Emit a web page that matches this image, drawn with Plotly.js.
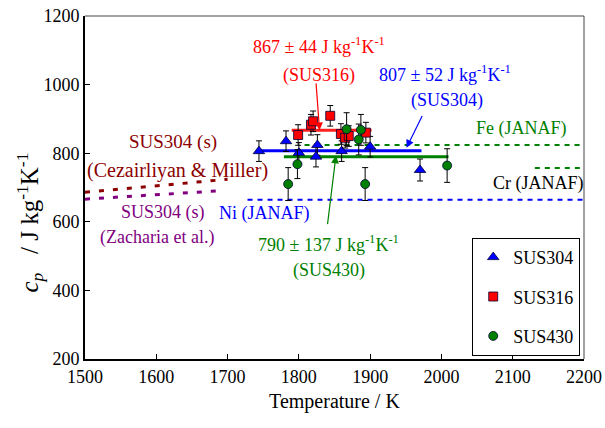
<!DOCTYPE html>
<html>
<head>
<meta charset="utf-8">
<script src="https://cdn.plot.ly/plotly-3.0.1.min.js"></script>
<style>html,body{margin:0;padding:0;background:#fff;}#chart{width:605px;height:428px;}</style>
</head>
<body>
<div id="chart"></div>
<script>
// Measured data (Temperature / K, cp / J kg-1 K-1)
const sus304T   = [1744, 1782, 1800, 1824, 1826, 1860, 1900, 1970];
const sus304Cp  = [806, 835, 801, 790, 824, 806, 819, 751];
const sus304Err = [30, 30, 30, 30, 30, 30, 30, 32];

const sus316T   = [1799, 1817, 1820, 1844, 1859, 1865, 1870, 1894];
const sus316Cp  = [853, 883, 893, 909, 856, 845, 850, 860];
const sus316Err = [30, 30, 30, 30, 30, 30, 30, 30];

const sus430T   = [1785, 1798, 1867, 1884, 1887, 1893, 2008];
const sus430Cp  = [710, 768, 870, 840, 868, 710, 764];
const sus430Err = [48, 42, 48, 45, 45, 48, 49];

// Mean values (horizontal fit lines)
const fit304T = [1741, 1972]; const fit304Cp = [807, 807];
const fit316T = [1790, 1902]; const fit316Cp = [867, 867];
const fit430T = [1779, 2010]; const fit430Cp = [790, 790];

// Reference data
const niT = [1728, 2200]; const niCp = [664, 664];
const feT = [1808, 2200]; const feCp = [824, 824];
const crT = [2131, 2200]; const crCp = [757, 757];
const cezT = [1500, 1700]; const cezCp = [686, 724];
const zacT = [1500, 1693]; const zacCp = [666, 691];

const xTicks = [1500, 1600, 1700, 1800, 1900, 2000, 2100, 2200];
const yTicks = [200, 400, 600, 800, 1000, 1200];

const FONT = "'Liberation Serif', 'Times New Roman', serif";

function line(x, y, color, width, dash) {
  return {x: x, y: y, type: 'scatter', mode: 'lines', showlegend: false, hoverinfo: 'skip',
          line: {color: color, width: width, dash: dash || 'solid'}};
}
function pts(name, x, y, err, symbol, color, size, grp) {
  return {x: x, y: y, name: name, type: 'scatter', mode: 'markers', legendgroup: grp,
          marker: {symbol: symbol, color: color, size: size, line: {color: '#000033', width: 0.8}},
          error_y: {type: 'data', array: err, visible: true, color: '#000', thickness: 1, width: 3}};
}

const data = [
  line(cezT, cezCp, '#8B0000', 3, '5px,9px'),
  line(zacT, zacCp, '#800080', 3, '5px,9px'),
  line(niT, niCp, '#0000FF', 2, '5px,5px'),
  line(feT, feCp, '#008000', 2, '5px,5px'),
  line(crT, crCp, '#008000', 2, '5px,5px'),
  line(fit304T, fit304Cp, '#0000FF', 3),
  line(fit430T, fit430Cp, '#008000', 3),
  line(fit316T, fit316Cp, '#FF2020', 3),
  pts('SUS304', sus304T, sus304Cp, sus304Err, 'triangle-up', '#0000FF', 10, 'a'),
  pts('SUS316', sus316T, sus316Cp, sus316Err, 'square', '#FF0000', 9, 'b'),
  pts('SUS430', sus430T, sus430Cp, sus430Err, 'circle', '#008000', 9, 'c')
];

function txt(x, y, text, color, size) {
  return {x: x, y: y, xref: 'x', yref: 'y', text: text, showarrow: false,
          font: {family: FONT, size: size || 18, color: color}, xanchor: 'center', yanchor: 'middle'};
}
function arrow(x, y, ax, ay, color) {
  return {x: x, y: y, ax: ax, ay: ay, xref: 'x', yref: 'y', axref: 'x', ayref: 'y',
          text: '', showarrow: true, arrowhead: 2, arrowsize: 1.3, arrowwidth: 1.2,
          arrowcolor: color, standoff: 0, startstandoff: 0};
}

const annotations = [
  txt(1828, 1113, '867 ± 44 J kg<sup>-1</sup>K<sup>-1</sup>', '#FF0000'),
  txt(1828, 1028, '(SUS316)', '#FF0000'),
  txt(2005, 1031, '807 ± 52 J kg<sup>-1</sup>K<sup>-1</sup>', '#0000FF'),
  txt(2008, 955, '(SUS304)', '#0000FF'),
  txt(2113, 873, 'Fe (JANAF)', '#008000'),
  txt(2136, 713, 'Cr (JANAF)', '#000000'),
  txt(1752, 625, 'Ni (JANAF)', '#0000FF'),
  txt(1842, 538, '790 ± 137 J kg<sup>-1</sup>K<sup>-1</sup>', '#008000'),
  txt(1842, 459, '(SUS430)', '#008000'),
  txt(1624, 833, 'SUS304 (s)', '#8B0000', 19),
  txt(1630, 751, '(Cezairliyan &amp; Miller)', '#8B0000', 20),
  txt(1610, 626, 'SUS304 (s)', '#800080'),
  txt(1601, 553, '(Zacharia et al.)', '#800080'),
  arrow(1829, 867, 1824, 1008, '#FF0000'),
  arrow(1951, 816, 1974, 913, '#0000FF'),
  arrow(1852, 793, 1840, 589, '#008000'),
  {x: -0.11, y: 598, xref: 'paper', yref: 'y', textangle: -90, showarrow: false,
   xanchor: 'center', yanchor: 'middle',
   text: '<i>c</i><sub><i>p</i></sub>&nbsp;&nbsp;&nbsp;/ J kg<sup>-1</sup>K<sup>-1</sup>',
   font: {family: FONT, size: 25, color: '#000'}}
];

const layout = {
  width: 605, height: 428,
  margin: {l: 85, r: 21, t: 16, b: 69, pad: 0},
  paper_bgcolor: '#fff', plot_bgcolor: '#fff',
  font: {family: FONT, size: 18, color: '#000'},
  showlegend: true,
  legend: {x: 0.776, y: 0.353, xanchor: 'left', yanchor: 'top',
           bgcolor: '#fff', bordercolor: '#000', borderwidth: 1,
           font: {family: FONT, size: 18, color: '#000'},
           traceorder: 'grouped', tracegroupgap: 13, itemwidth: 30},
  xaxis: {range: [1500, 2200], tickvals: xTicks, ticktext: xTicks.map(String),
          showgrid: false, zeroline: false, showline: true, linecolor: '#000', linewidth: 2,
          ticks: 'inside', ticklen: 5, tickcolor: '#000',
          tickfont: {family: FONT, size: 18},
          title: {text: 'Temperature / K', font: {family: FONT, size: 20}, standoff: 8}},
  yaxis: {range: [200, 1200], tickvals: yTicks, ticktext: yTicks.map(String),
          showgrid: false, zeroline: false, showline: true, linecolor: '#000', linewidth: 2,
          ticks: 'inside', ticklen: 5, tickcolor: '#000',
          tickfont: {family: FONT, size: 18}},
  shapes: [
    {type: 'line', xref: 'paper', yref: 'paper', x0: 0, x1: 1, y0: 1, y1: 1, line: {color: '#444', width: 1}},
    {type: 'line', xref: 'paper', yref: 'paper', x0: 1, x1: 1, y0: 0, y1: 1, line: {color: '#444', width: 1}}
  ],
  annotations: annotations
};

Plotly.newPlot('chart', data, layout, {displayModeBar: false, staticPlot: true});
</script>
</body>
</html>
